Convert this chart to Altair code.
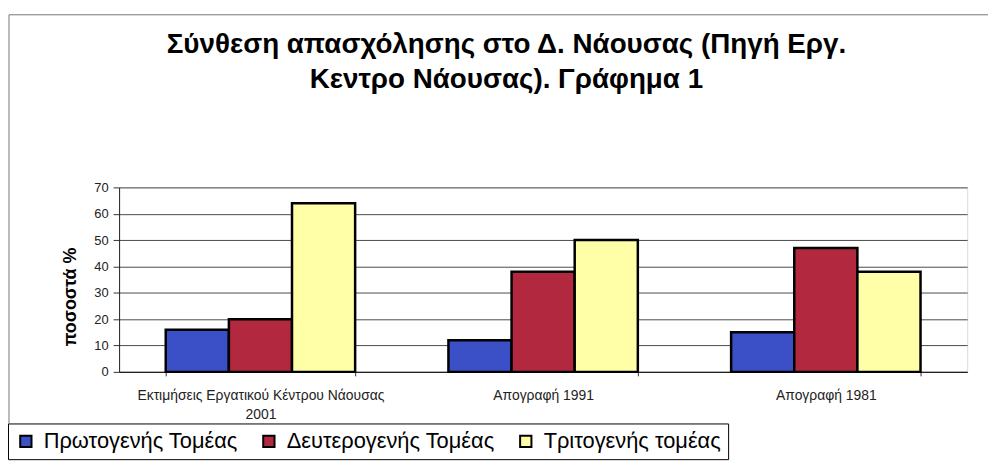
import altair as alt
import pandas as pd

categories = ["Εκτιμήσεις Εργατικού Κέντρου Νάουσας 2001", "Απογραφή 1991", "Απογραφή 1981"]
sectors = ["Πρωτογενής Τομέας", "Δευτερογενής Τομέας", "Τριτογενής τομέας"]
primary = [16, 12, 15]
secondary = [20, 38, 47]
tertiary = [64, 50, 38]
colors = ["#3b4fc6", "#b2283f", "#ffffa8"]
y_ticks = [0, 10, 20, 30, 40, 50, 60, 70]
title_lines = ["Σύνθεση απασχόλησης στο Δ. Νάουσας (Πηγή Εργ.", "Κεντρο Νάουσας). Γράφημα 1"]

rows = []
for i, c in enumerate(categories):
    for s, vals in zip(sectors, [primary, secondary, tertiary]):
        rows.append({"period": c, "sector": s, "value": vals[i]})
df = pd.DataFrame(rows)

W, H = 855, 186
FONT = "Liberation Sans"

bars = alt.Chart(df).mark_bar(stroke="black", strokeWidth=2.5).encode(
    x=alt.X("period:N", sort=categories,
            scale=alt.Scale(paddingInner=0.33, paddingOuter=0.165),
            axis=alt.Axis(title=None, labelAngle=0, labelFontSize=14, labelFont=FONT,
                          labelColor="#222", labelPadding=13, labelLineHeight=19,
                          tickBand="extent",
                          tickSize=4, tickColor="#333", domainColor="#222", domainWidth=1.5,
                          labelLimit=400,
                          labelExpr="indexof(datum.label, ' 2001') > 0 ? [replace(datum.label, ' 2001', ''), '2001'] : datum.label")),
    xOffset=alt.XOffset("sector:N", sort=sectors, scale=alt.Scale(paddingInner=0, paddingOuter=0)),
    y=alt.Y("value:Q", scale=alt.Scale(domain=[0, 70]),
            axis=alt.Axis(values=y_ticks, title="ποσοστά %", titleFont=FONT, titleFontSize=18,
                          titleFontWeight="bold", titleColor="black", titlePadding=14,
                          titleY=110,
                          labelFont=FONT, labelFontSize=13, labelColor="#222", labelPadding=5,
                          tickSize=6, tickColor="#333", domainColor="#222",
                          gridColor="#4a4a4a", gridWidth=1)),
    color=alt.Color("sector:N", sort=sectors, scale=alt.Scale(domain=sectors, range=colors),
                    legend=alt.Legend(orient="none", legendX=-112, legendY=238, direction="horizontal",
                                      columns=3, title=None, symbolType="square", symbolSize=130,
                                      symbolStrokeColor="black", symbolStrokeWidth=2,
                                      labelFontSize=22, labelFont=FONT, labelColor="black",
                                      strokeColor="black", fillColor="white", padding=7,
                                      columnPadding=20, labelOffset=7, labelLimit=400)),
)

frame_df = pd.DataFrame({"k": [0]})
left_line = alt.Chart(frame_df).mark_rule(color="#777", strokeWidth=1).encode(
    x=alt.value(-111), y=alt.value(-174), y2=alt.value(238))
top_line = alt.Chart(frame_df).mark_rule(color="#777", strokeWidth=1).encode(
    x=alt.value(-111), x2=alt.value(880), y=alt.value(-174))

chart = alt.layer(left_line, top_line, bars).properties(
    width=W, height=H,
    autosize=alt.AutoSizeParams(type="none"),
    padding={"left": 112, "top": 179, "right": 21, "bottom": 88},
    title=alt.TitleParams(text=title_lines, font=FONT, fontSize=28, fontWeight="bold",
                          color="black", anchor="middle", frame="group", offset=-80,
                          baseline="top", dx=-37, lineHeight=35),
).configure_view(fill="#c0c0c0", stroke="#999", strokeWidth=1).configure(background="white")

chart.save("out.html", embed_options={"renderer": "svg", "actions": False})
